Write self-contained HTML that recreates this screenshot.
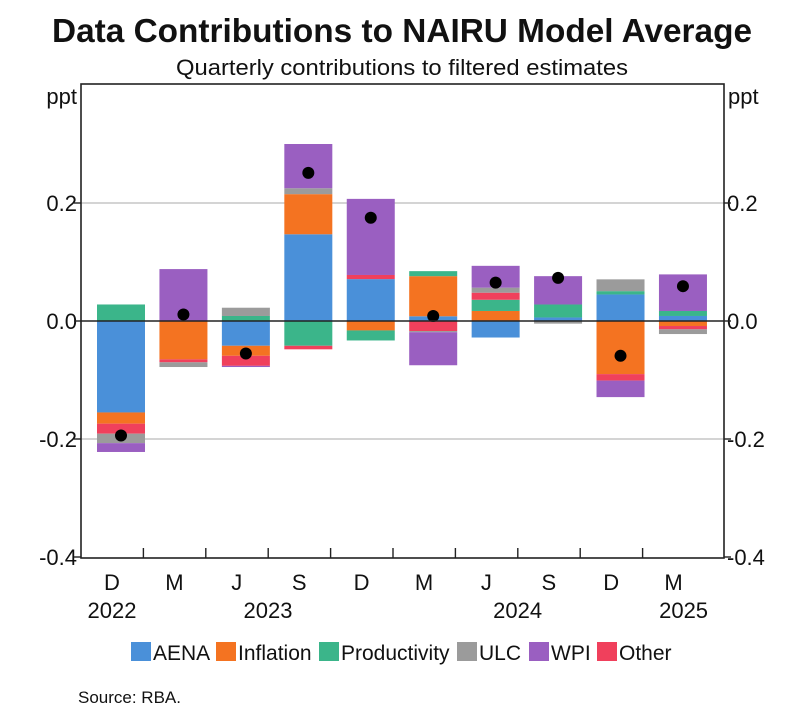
<!DOCTYPE html>
<html><head><meta charset="utf-8"><style>
body{margin:0;background:#fff;}
svg text{font-family:"Liberation Sans",Arial,sans-serif;fill:#111;}
</style></head><body>
<svg width="799" height="709" viewBox="0 0 799 709" xmlns="http://www.w3.org/2000/svg">
<text x="402" y="42" text-anchor="middle" font-size="33" font-weight="bold" textLength="700" lengthAdjust="spacingAndGlyphs">Data Contributions to NAIRU Model Average</text>
<text x="402" y="75" text-anchor="middle" font-size="22" textLength="452" lengthAdjust="spacingAndGlyphs">Quarterly contributions to filtered estimates</text>
<text x="77" y="104" text-anchor="end" font-size="22">ppt</text>
<text x="728" y="104" text-anchor="start" font-size="22">ppt</text>
<g id="grid"></g>
<g id="bars"></g>
<g id="dots"></g>
<rect x="81" y="84" width="643" height="474" fill="none" stroke="#222" stroke-width="1.6"/>
<g id="axes"></g>
<g id="legend"></g>
<text x="78" y="703" font-size="17">Source:   RBA.</text>
</svg>
<script>
const categories = ["D","M","J","S","D","M","J","S","D","M"];
const years = [["2022",0],["2023",2.5],["2024",6.5],["2025",9.16]];
const seriesNames = ["AENA","Inflation","Productivity","Other","ULC","WPI"];
const legendOrder = ["AENA","Inflation","Productivity","ULC","WPI","Other"];
const colors = {AENA:"#4a90d9",Inflation:"#f47321",Productivity:"#3bb58a",ULC:"#9b9b9b",WPI:"#9a5fc1",Other:"#f0405c"};
const AENA =         [-0.155, 0,     -0.042, 0.147, 0.071, 0.008, -0.028, 0.006, 0.045, 0.0085];
const Inflation =    [-0.019,-0.065, -0.017, 0.068,-0.016, 0.068,  0.017, 0,    -0.090,-0.0085];
const Productivity = [ 0.028, 0,      0.0085,-0.042,-0.017,0.0085, 0.019, 0.022, 0.0056,0.0085];
const Other =        [-0.017,-0.005, -0.017,-0.006, 0.007,-0.017,  0.012, 0,    -0.011,-0.0056];
const ULC =          [-0.016,-0.008,  0.014, 0.010, 0,    -0.002,  0.0085,-0.0045,0.020,-0.008];
const WPI =          [-0.015, 0.088, -0.002, 0.075, 0.129,-0.056,  0.037, 0.048,-0.028, 0.062];
const totals =       [-0.194, 0.011, -0.055, 0.251, 0.175, 0.0085, 0.065, 0.073,-0.059, 0.059];
const yTicks = [0.2, 0.0, -0.2, -0.4];
const yTickLabels = ["0.2","0.0","-0.2","-0.4"];

const NS="http://www.w3.org/2000/svg";
function y(v){return 321 - v*590;}
function xc(i){return 121 + i*62.44;}
function xt(k){return 81 + k*62.4;}
function mk(tag,attrs,parent){const e=document.createElementNS(NS,tag);for(const k in attrs)e.setAttribute(k,attrs[k]);parent.appendChild(e);return e;}
const data={AENA,Inflation,Productivity,Other,ULC,WPI};
const grid=document.getElementById('grid'),bars=document.getElementById('bars'),dots=document.getElementById('dots'),axes=document.getElementById('axes'),legend=document.getElementById('legend');
yTicks.forEach((v,i)=>{
  if(v!==0 && v>-0.4){const l=mk('line',{x1:81,x2:724,y1:y(v),y2:y(v),stroke:'#bbb','stroke-width':1.2},grid);
  
  }
  const t1=mk('text',{x:77,y:y(v)+8,'text-anchor':'end','font-size':22},axes);t1.textContent=yTickLabels[i];
  
  
  const t2=mk('text',{x:727,y:y(v)+8,'text-anchor':'start','font-size':22},axes);t2.textContent=yTickLabels[i];
  
  
  mk('line',{x1:74,x2:81,y1:y(v),y2:y(v),stroke:'#222','stroke-width':1.4},axes);
  mk('line',{x1:724,x2:731,y1:y(v),y2:y(v),stroke:'#222','stroke-width':1.4},axes);
});
categories.forEach((c,i)=>{
  let pos=0,neg=0;
  seriesNames.forEach(s=>{
    const v=data[s][i];if(!v)return;
    let top,bot;
    if(v>0){bot=pos;top=pos+v;pos=top;}else{top=neg;bot=neg+v;neg=bot;}
    const r=mk('rect',{x:xc(i)-24,y:y(top),width:48,height:y(bot)-y(top),fill:colors[s]},bars);
    
    
  });
  const d=mk('circle',{cx:xc(i),cy:y(totals[i]),r:6,fill:'#000'},dots);
  
  
  const t=mk('text',{x:xt(i)+31,y:590,'text-anchor':'middle','font-size':22},axes);t.textContent=c;
  
  
  if(i>0)mk('line',{x1:xt(i),x2:xt(i),y1:548,y2:558,stroke:'#222','stroke-width':1.4},axes);
});
mk('line',{x1:81,x2:724,y1:y(0),y2:y(0),stroke:'#222','stroke-width':1.4},axes);
years.forEach(([yr,p])=>{
  const t=mk('text',{x:xt(p)+31,y:618,'text-anchor':'middle','font-size':22},axes);t.textContent=yr;
  
  
});
const legX={AENA:131,Inflation:216,Productivity:319,ULC:457,WPI:529,Other:597};
legendOrder.forEach(s=>{
  const r=mk('rect',{x:legX[s],y:642,width:20,height:19,fill:colors[s]},legend);
  
  
  const t=mk('text',{x:legX[s]+22,y:660,'font-size':21},legend);t.textContent=s;
  
  
});
</script>
</body></html>
